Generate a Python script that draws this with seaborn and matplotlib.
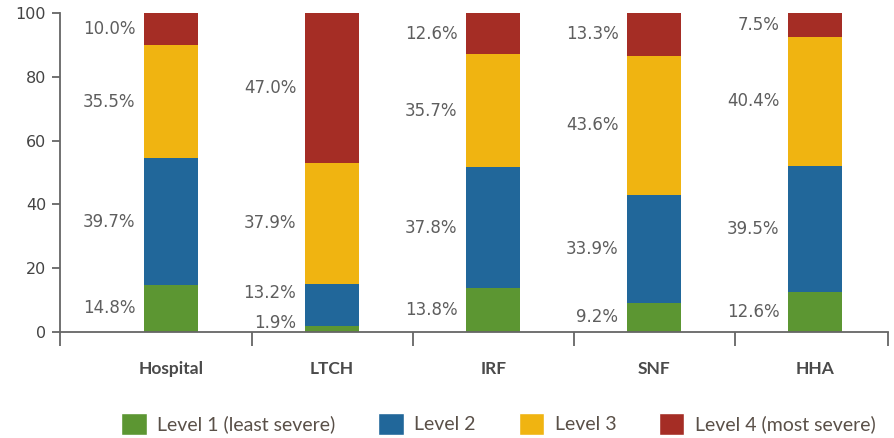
import matplotlib
matplotlib.use('Agg')
import matplotlib.pyplot as plt
import seaborn as sns
import numpy as np
import pandas as pd
from matplotlib.patches import Patch

settings = ["Hospital", "LTCH", "IRF", "SNF", "HHA"]
levels = ["Level 1 (least severe)", "Level 2", "Level 3", "Level 4 (most severe)"]
level1 = [14.8, 1.9, 13.8, 9.2, 12.6]
level2 = [39.7, 13.2, 37.8, 33.9, 39.5]
level3 = [35.5, 37.9, 35.7, 43.6, 40.4]
level4 = [10.0, 47.0, 12.6, 13.3, 7.5]
colors = ["#5C9632", "#21679A", "#F0B411", "#A52D25"]

# label nudges (in y units) where small segments would overlap
nudge = {(1, 0): 1.9, (1, 1): 3.7}

df = pd.DataFrame({"setting": settings, "l1": level1, "l2": level2, "l3": level3, "l4": level4})
cols = ["l1", "l2", "l3", "l4"]
cum = df[cols].cumsum(axis=1)

sns.set_style("white")
plt.rcParams['font.family'] = ['DejaVu Sans']

fig = plt.figure(figsize=(8.95, 4.38), dpi=100)
ax = fig.add_axes([0.067, 0.242, 0.925, 0.728])

bw = 0.335
# stack by drawing cumulative totals, biggest first
for i in reversed(range(4)):
    sns.barplot(x=df["setting"], y=cum[cols[i]], color=colors[i], width=bw,
                saturation=1, ax=ax, linewidth=0, order=settings)

txt_color = "#5e5e5e"
for j in range(len(settings)):
    base = 0
    for i, c in enumerate(cols):
        v = df.loc[j, c]
        yc = base + v / 2 + nudge.get((j, i), 0)
        ax.text(j - bw / 2 - 0.055, yc, f"{v:.1f}%", ha="right", va="center",
                fontsize=12, color=txt_color)
        base += v

ax.set_ylim(0, 100)
ax.set_xlim(-0.69, 4.45)
ax.set_yticks([0, 20, 40, 60, 80, 100])
ax.tick_params(axis="y", labelsize=11.5, labelcolor="#444444", length=6, width=1.3,
               color="#666666", left=True, pad=4)
ax.set_xticks([-0.69, 0.5, 1.5, 2.5, 3.5, 4.45])
ax.set_xticklabels([])
ax.set_xticks(range(len(settings)), minor=True)
ax.set_xticklabels(settings, minor=True, fontsize=12.5, fontweight="bold", color="#4a4a4a",
                   family="Lato")
ax.tick_params(axis="x", which="major", length=10, width=1.3, color="#666666", bottom=True)
ax.tick_params(axis="x", which="minor", length=0, pad=21)
ax.set_xlabel("")
ax.set_ylabel("")
for s in ["top", "right"]:
    ax.spines[s].set_visible(False)
for s in ["left", "bottom"]:
    ax.spines[s].set_color("#666666")
    ax.spines[s].set_linewidth(1.3)

handles = [Patch(facecolor=colors[i], label=levels[i]) for i in range(4)]
leg = fig.legend(handles=handles, loc="lower center", bbox_to_anchor=(0.557, -0.032), ncol=4,
                 frameon=False, prop={"family": "Lato", "size": 14}, handlelength=1.3,
                 handleheight=1.3, columnspacing=2.2, handletextpad=0.55)
for t in leg.get_texts():
    t.set_color("#5a5048")

fig.savefig("out.png", dpi=100)
